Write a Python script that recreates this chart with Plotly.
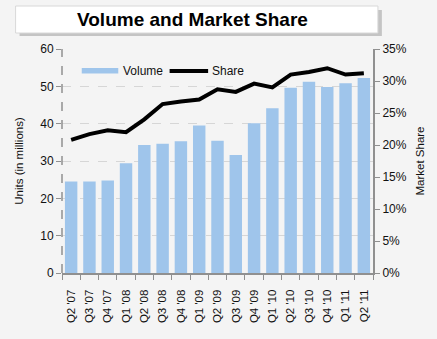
import plotly.graph_objects as go

quarters = ["Q2 '07", "Q3 '07", "Q4 '07", "Q1 '08", "Q2 '08", "Q3 '08", "Q4 '08",
            "Q1 '09", "Q2 '09", "Q3 '09", "Q4 '09", "Q1 '10", "Q2 '10", "Q3 '10",
            "Q4 '10", "Q1 '11", "Q2 '11"]
volume = [24.5, 24.5, 24.8, 29.4, 34.3, 34.6, 35.3, 39.5, 35.4, 31.6, 40.1,
          44.1, 49.6, 51.2, 49.8, 50.8, 52.2]
share = [20.8, 21.7, 22.3, 22.0, 24.0, 26.4, 26.8, 27.1, 28.7, 28.3, 29.6,
         29.0, 31.0, 31.4, 32.0, 31.0, 31.2]

FONT = "Liberation Sans, Arial, sans-serif"
W, H = 437, 339
L, R, T, B = 62, 60, 49, 66
pw, ph = W - L - R, H - T - B
BAR_COLOR = "#9fc5eb"

def px(x):
    return (x - L) / pw

def py(y):
    return (H - B - y) / ph

fig = go.Figure()
fig.add_trace(go.Bar(x=quarters, y=volume, name="Volume", marker_color=BAR_COLOR,
                     marker_line_width=0, width=0.68, yaxis="y", showlegend=False))
fig.add_trace(go.Scatter(x=quarters, y=share, name="Share", mode="lines",
                         line=dict(color="black", width=4), yaxis="y2", showlegend=False))

shapes = [
    # title shadow
    dict(type="rect", xref="paper", yref="paper", x0=px(19), x1=px(386), y0=py(36), y1=py(10),
         fillcolor="#c4c4c4", line_width=0, layer="above"),
    dict(type="rect", xref="paper", yref="paper", x0=px(15), x1=px(382), y0=py(33), y1=py(6),
         fillcolor="white", line=dict(color="#d8d8d8", width=1), layer="above"),
    # left dashed axis line
    dict(type="line", xref="paper", yref="paper", x0=0, x1=0, y0=0, y1=1,
         line=dict(color="#909090", width=1.5, dash="dash")),
    # legend swatches
    dict(type="rect", xref="paper", yref="paper", x0=px(82), x1=px(119), y0=py(73.5), y1=py(68),
         fillcolor=BAR_COLOR, line_width=0, layer="above"),
    dict(type="line", xref="paper", yref="paper", x0=px(171), x1=px(210), y0=py(71), y1=py(71),
         line=dict(color="black", width=4), layer="above"),
]

annotations = [
    dict(text="<b>Volume and Market Share</b>", xref="paper", yref="paper",
         x=px(194), y=py(19.5), xanchor="center", yanchor="middle", showarrow=False,
         font=dict(size=19, family=FONT, color="black")),
    dict(text="Volume", xref="paper", yref="paper", x=px(122), y=py(71),
         xanchor="left", yanchor="middle", showarrow=False, font=dict(size=12, family=FONT)),
    dict(text="Share", xref="paper", yref="paper", x=px(212), y=py(71),
         xanchor="left", yanchor="middle", showarrow=False, font=dict(size=12, family=FONT)),
]

fig.update_layout(
    width=W, height=H,
    margin=dict(l=L, r=R, t=T, b=B),
    paper_bgcolor="#f4f4f4", plot_bgcolor="#f4f4f4",
    font=dict(family=FONT, size=11, color="#111111"),
    showlegend=False,
    shapes=shapes,
    annotations=annotations,
    xaxis=dict(type="category", tickangle=-90, ticks="outside", tickson="boundaries",
               ticklen=5, tickcolor="#909090", showline=True, linecolor="#909090",
               linewidth=2, showgrid=False, tickfont=dict(size=11.5), ticklabelstandoff=10),
    yaxis=dict(range=[0, 60], dtick=10, ticks="outside", ticklen=5, tickcolor="#909090",
               showgrid=True, gridcolor="#d6d6d6", griddash="dash", gridwidth=1,
               zeroline=False, showline=False, tickfont=dict(size=12),
               title=dict(text="Units (in millions)", font=dict(size=11.5), standoff=14)),
    yaxis2=dict(range=[0, 35], dtick=5, ticksuffix="%", overlaying="y", side="right",
                ticks="outside", ticklen=5, tickcolor="#909090", showgrid=False,
                zeroline=False, showline=True, linecolor="#909090", linewidth=2,
                tickfont=dict(size=12),
                title=dict(text="Market Share", font=dict(size=11.5), standoff=10)),
)

fig.write_html("out.html")
